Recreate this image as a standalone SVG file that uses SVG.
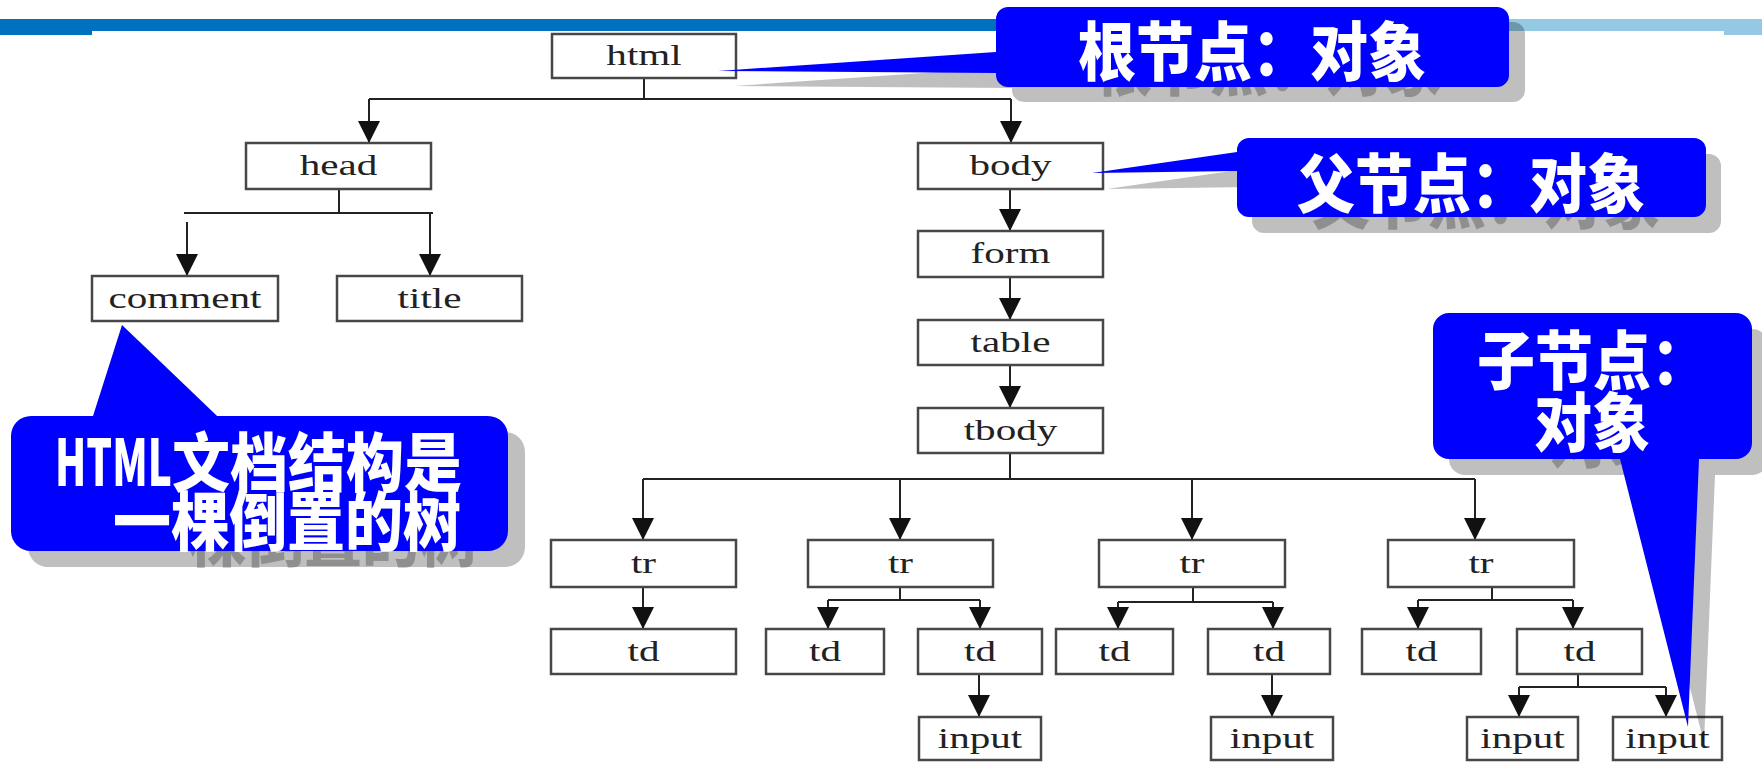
<svg xmlns="http://www.w3.org/2000/svg" width="1762" height="762" viewBox="0 0 1762 762">
<style>
.box{fill:#fff;stroke:#474747;stroke-width:2.5}
.lbl{font-family:"Liberation Serif",serif;font-size:30px;fill:#222;text-anchor:middle}
.ln{stroke:#222;stroke-width:2;fill:none}
.ar{stroke:#222;stroke-width:2;fill:none;marker-end:url(#ah)}
.cb{fill:#0000FF}
.sh{fill:#000;fill-opacity:0.25}
.ct{font-family:"Noto Sans CJK SC","Noto Sans",sans-serif;font-weight:900;font-size:58px;fill:#fff}
.st{font-family:"Noto Sans CJK SC","Noto Sans",sans-serif;font-weight:900;font-size:58px;fill:#000;fill-opacity:0.25}
</style>
<defs>
<linearGradient id="bar" x1="0" y1="0" x2="1762" y2="0" gradientUnits="userSpaceOnUse">
<stop offset="0.6" stop-color="#0070C0"/>
<stop offset="0.86" stop-color="#94C9E3"/>
</linearGradient>
<marker id="ah" markerUnits="userSpaceOnUse" markerWidth="22" markerHeight="22" viewBox="0 0 22 22" refX="22" refY="11" orient="auto">
<path d="M0,0 L22,11 L0,22 Z" fill="#111"/>
</marker>
</defs>
<rect width="1762" height="762" fill="#fff"/>
<g id="topbar">
<rect x="0" y="19" width="1762" height="12" fill="url(#bar)"/>
<rect x="0" y="31" width="92" height="4" fill="#0070C0"/>
<rect x="1724" y="31" width="38" height="4" fill="#94C9E3"/>
</g>
<g id="connectors">
<path class="ln" d="M644,78 V99 M369,99 H1011"/>
<path class="ar" d="M369,99 V143"/>
<path class="ar" d="M1011,99 V143"/>
<path class="ln" d="M339,189 V213 M184,213 H433"/>
<path class="ar" d="M187,222 V276"/>
<path class="ar" d="M430,213 V276"/>
<path class="ar" d="M1010,189 V231"/>
<path class="ar" d="M1010,277 V320"/>
<path class="ar" d="M1010,365 V408"/>
<path class="ln" d="M1010,453 V479 M643,479 H1475"/>
<path class="ar" d="M643,479 V540"/>
<path class="ar" d="M900,479 V540"/>
<path class="ar" d="M1192,479 V540"/>
<path class="ar" d="M1475,479 V540"/>
<path class="ar" d="M643,587 V629"/>
<path class="ln" d="M900,580 V600 M828,600 H980"/>
<path class="ar" d="M828,600 V629"/>
<path class="ar" d="M980,600 V629"/>
<path class="ln" d="M1193,583 V602 M1118,602 H1273"/>
<path class="ar" d="M1118,602 V629"/>
<path class="ar" d="M1273,602 V629"/>
<path class="ln" d="M1492,582 V600 M1418,600 H1573"/>
<path class="ar" d="M1418,600 V629"/>
<path class="ar" d="M1573,600 V629"/>
<path class="ar" d="M979,674 V717"/>
<path class="ar" d="M1272,674 V717"/>
<path class="ln" d="M1578,667 V687 M1519,687 H1666"/>
<path class="ar" d="M1519,687 V717"/>
<path class="ar" d="M1666,687 V717"/>
</g>
<g id="n-html"><rect class="box" x="552" y="34" width="184" height="44"/><text class="lbl" transform="translate(644,65) scale(1.37,1)">html</text></g>
<g id="n-head"><rect class="box" x="246" y="143" width="185" height="46"/><text class="lbl" transform="translate(338.5,175) scale(1.37,1)">head</text></g>
<g id="n-body"><rect class="box" x="918" y="143" width="185" height="46"/><text class="lbl" transform="translate(1010.5,175) scale(1.37,1)">body</text></g>
<g id="n-comment"><rect class="box" x="92" y="276" width="186" height="45"/><text class="lbl" transform="translate(185,307.5) scale(1.37,1)">comment</text></g>
<g id="n-title"><rect class="box" x="337" y="276" width="185" height="45"/><text class="lbl" transform="translate(429.5,307.5) scale(1.37,1)">title</text></g>
<g id="n-form"><rect class="box" x="918" y="231" width="185" height="46"/><text class="lbl" transform="translate(1010.5,263) scale(1.37,1)">form</text></g>
<g id="n-table"><rect class="box" x="918" y="320" width="185" height="45"/><text class="lbl" transform="translate(1010.5,351.5) scale(1.37,1)">table</text></g>
<g id="n-tbody"><rect class="box" x="918" y="408" width="185" height="45"/><text class="lbl" transform="translate(1010.5,439.5) scale(1.37,1)">tbody</text></g>
<g id="n-tr1"><rect class="box" x="551" y="540" width="185" height="47"/><text class="lbl" transform="translate(643.5,572.5) scale(1.37,1)">tr</text></g>
<g id="n-tr2"><rect class="box" x="808" y="540" width="185" height="47"/><text class="lbl" transform="translate(900.5,572.5) scale(1.37,1)">tr</text></g>
<g id="n-tr3"><rect class="box" x="1099" y="540" width="186" height="47"/><text class="lbl" transform="translate(1192,572.5) scale(1.37,1)">tr</text></g>
<g id="n-tr4"><rect class="box" x="1388" y="540" width="186" height="47"/><text class="lbl" transform="translate(1481,572.5) scale(1.37,1)">tr</text></g>
<g id="n-td1"><rect class="box" x="551" y="629" width="185" height="45"/><text class="lbl" transform="translate(643.5,660.5) scale(1.37,1)">td</text></g>
<g id="n-td2a"><rect class="box" x="766" y="629" width="118" height="45"/><text class="lbl" transform="translate(825,660.5) scale(1.37,1)">td</text></g>
<g id="n-td2b"><rect class="box" x="918" y="629" width="124" height="45"/><text class="lbl" transform="translate(980,660.5) scale(1.37,1)">td</text></g>
<g id="n-td3a"><rect class="box" x="1056" y="629" width="117" height="45"/><text class="lbl" transform="translate(1114.5,660.5) scale(1.37,1)">td</text></g>
<g id="n-td3b"><rect class="box" x="1208" y="629" width="122" height="45"/><text class="lbl" transform="translate(1269,660.5) scale(1.37,1)">td</text></g>
<g id="n-td4a"><rect class="box" x="1362" y="629" width="119" height="45"/><text class="lbl" transform="translate(1421.5,660.5) scale(1.37,1)">td</text></g>
<g id="n-td4b"><rect class="box" x="1517" y="629" width="125" height="45"/><text class="lbl" transform="translate(1579.5,660.5) scale(1.37,1)">td</text></g>
<g id="n-input1"><rect class="box" x="919" y="717" width="122" height="43"/><text class="lbl" transform="translate(980,747.5) scale(1.37,1)">input</text></g>
<g id="n-input2"><rect class="box" x="1211" y="717" width="122" height="43"/><text class="lbl" transform="translate(1272,747.5) scale(1.37,1)">input</text></g>
<g id="n-input3"><rect class="box" x="1467" y="717" width="111" height="43"/><text class="lbl" transform="translate(1522.5,747.5) scale(1.37,1)">input</text></g>
<g id="n-input4"><rect class="box" x="1613" y="717" width="109" height="43"/><text class="lbl" transform="translate(1667.5,747.5) scale(1.37,1)">input</text></g>

<g id="callout-root">
<g transform="translate(16,15)">
<path class="sh" d="M1008,7 H1497 A12,12 0 0 1 1509,19 V75 A12,12 0 0 1 1497,87 H1008 A12,12 0 0 1 996,75 V73 L718,71 L996,52 V19 A12,12 0 0 1 1008,7 Z"/>
<text class="st" text-anchor="middle" transform="translate(1252,75) scale(1,1.1)">根节点：对象</text>
</g>
<path class="cb" d="M1008,7 H1497 A12,12 0 0 1 1509,19 V75 A12,12 0 0 1 1497,87 H1008 A12,12 0 0 1 996,75 V73 L718,71 L996,52 V19 A12,12 0 0 1 1008,7 Z"/>
<text class="ct" text-anchor="middle" transform="translate(1252,75) scale(1,1.1)">根节点：对象</text>
</g>
<g id="callout-parent">
<g transform="translate(15,16)">
<path class="sh" d="M1249,138 H1694 A12,12 0 0 1 1706,150 V205 A12,12 0 0 1 1694,217 H1249 A12,12 0 0 1 1237,205 V171 L1092,173 L1237,152 V150 A12,12 0 0 1 1249,138 Z"/>
<text class="st" text-anchor="middle" transform="translate(1471,207) scale(1,1.1)">父节点：对象</text>
</g>
<path class="cb" d="M1249,138 H1694 A12,12 0 0 1 1706,150 V205 A12,12 0 0 1 1694,217 H1249 A12,12 0 0 1 1237,205 V171 L1092,173 L1237,152 V150 A12,12 0 0 1 1249,138 Z"/>
<text class="ct" text-anchor="middle" transform="translate(1471,207) scale(1,1.1)">父节点：对象</text>
</g>
<g id="callout-child">
<g transform="translate(16,16)">
<path class="sh" d="M1449,313 H1736 A16,16 0 0 1 1752,329 V443 A16,16 0 0 1 1736,459 H1699 L1688,727 L1620,459 H1449 A16,16 0 0 1 1433,443 V329 A16,16 0 0 1 1449,313 Z"/>
<text class="st" text-anchor="middle" transform="translate(1593,384) scale(1,1.1)">子节点：</text>
<text class="st" text-anchor="middle" transform="translate(1592,446) scale(1,1.1)">对象</text>
</g>
<path class="cb" d="M1449,313 H1736 A16,16 0 0 1 1752,329 V443 A16,16 0 0 1 1736,459 H1699 L1688,727 L1620,459 H1449 A16,16 0 0 1 1433,443 V329 A16,16 0 0 1 1449,313 Z"/>
<text class="ct" text-anchor="middle" transform="translate(1593,384) scale(1,1.1)">子节点：</text>
<text class="ct" text-anchor="middle" transform="translate(1592,446) scale(1,1.1)">对象</text>
</g>
<g id="callout-tree">
<g transform="translate(17,16)">
<path class="sh" d="M31,416 H93 L122,325 L217,416 H488 A20,20 0 0 1 508,436 V531 A20,20 0 0 1 488,551 H31 A20,20 0 0 1 11,531 V436 A20,20 0 0 1 31,416 Z"/>
<text class="st" transform="translate(55,486) scale(1,1.1)"><tspan textLength="117" lengthAdjust="spacingAndGlyphs">HTML</tspan>文档结构是</text>
<text class="st" transform="translate(113,545) scale(1,1.1)">一棵倒置的树</text>
</g>
<path class="cb" d="M31,416 H93 L122,325 L217,416 H488 A20,20 0 0 1 508,436 V531 A20,20 0 0 1 488,551 H31 A20,20 0 0 1 11,531 V436 A20,20 0 0 1 31,416 Z"/>
<text class="ct" transform="translate(55,486) scale(1,1.1)"><tspan textLength="117" lengthAdjust="spacingAndGlyphs">HTML</tspan>文档结构是</text>
<text class="ct" transform="translate(113,545) scale(1,1.1)">一棵倒置的树</text>
</g>
</svg>
